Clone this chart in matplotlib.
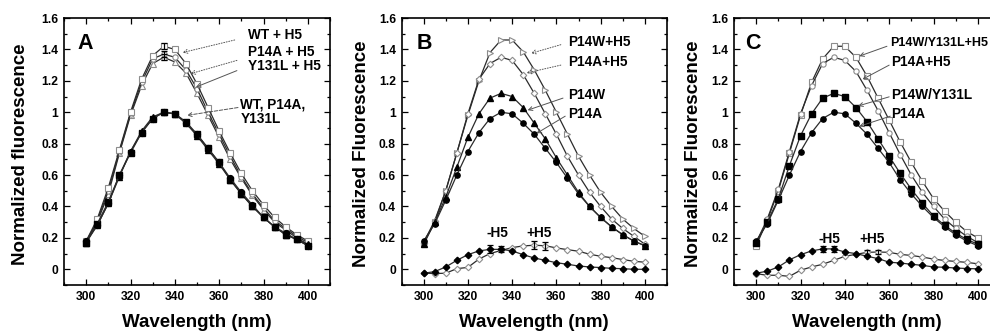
import matplotlib
matplotlib.use("Agg")
import matplotlib.pyplot as plt
from matplotlib.ticker import MultipleLocator, FuncFormatter

plt.rcParams['font.family'] = ['Liberation Sans', 'DejaVu Sans']
plt.rcParams['font.weight'] = 'bold'

# ---------------- data ----------------
wl = [300, 305, 310, 315, 320, 325, 330, 335, 340, 345, 350,
      355, 360, 365, 370, 375, 380, 385, 390, 395, 400]

# Panel A
A_wt = [0.18, 0.28, 0.42, 0.60, 0.75, 0.87, 0.96, 1.00, 0.99, 0.93, 0.86, 0.77, 0.68, 0.58, 0.49, 0.41, 0.33, 0.27, 0.23, 0.19, 0.15]
A_p14a = [0.17, 0.29, 0.43, 0.60, 0.74, 0.87, 0.96, 1.00, 0.99, 0.94, 0.86, 0.77, 0.68, 0.57, 0.48, 0.40, 0.33, 0.27, 0.22, 0.19, 0.15]
A_y131l = [0.17, 0.28, 0.42, 0.59, 0.75, 0.88, 0.97, 1.00, 0.99, 0.93, 0.85, 0.76, 0.67, 0.57, 0.48, 0.40, 0.33, 0.27, 0.22, 0.19, 0.16]
A_wt_h5 = [0.18, 0.32, 0.52, 0.76, 1.00, 1.21, 1.36, 1.42, 1.40, 1.31, 1.18, 1.03, 0.88, 0.74, 0.61, 0.50, 0.41, 0.33, 0.27, 0.22, 0.18]
A_p14a_h5 = [0.17, 0.31, 0.50, 0.75, 0.99, 1.19, 1.34, 1.37, 1.35, 1.27, 1.15, 1.00, 0.86, 0.72, 0.59, 0.48, 0.39, 0.31, 0.26, 0.21, 0.17]
A_y131l_h5 = [0.18, 0.30, 0.48, 0.74, 0.98, 1.17, 1.31, 1.35, 1.32, 1.25, 1.12, 0.98, 0.84, 0.70, 0.58, 0.47, 0.38, 0.30, 0.25, 0.20, 0.16]
A_err_wl = [335]
A_err_wt_h5 = [0.02]
A_err_p14a_h5 = [0.02]
A_err_y131l_h5 = [0.02]

# Panel B
B_p14w_h5 = [0.16, 0.30, 0.50, 0.74, 0.98, 1.20, 1.38, 1.46, 1.46, 1.385, 1.27, 1.14, 1.00, 0.86, 0.72, 0.60, 0.49, 0.40, 0.32, 0.26, 0.21]
B_p14a_h5 = [0.17, 0.31, 0.50, 0.74, 0.99, 1.21, 1.31, 1.35, 1.33, 1.24, 1.12, 0.99, 0.86, 0.72, 0.60, 0.49, 0.40, 0.32, 0.26, 0.21, 0.16]
B_p14w = [0.16, 0.30, 0.46, 0.65, 0.84, 0.99, 1.09, 1.12, 1.10, 1.03, 0.93, 0.83, 0.71, 0.60, 0.49, 0.40, 0.33, 0.27, 0.22, 0.18, 0.15]
B_p14a = [0.18, 0.29, 0.44, 0.60, 0.75, 0.87, 0.96, 1.00, 0.99, 0.93, 0.86, 0.77, 0.68, 0.58, 0.48, 0.40, 0.33, 0.27, 0.22, 0.18, 0.15]
B_minus_h5 = [-0.025, -0.015, 0.015, 0.057, 0.093, 0.117, 0.127, 0.127, 0.117, 0.093, 0.072, 0.057, 0.042, 0.032, 0.021, 0.015, 0.011, 0.006, 0.004, 0.0, 0.0]
B_plus_h5 = [-0.025, -0.027, -0.025, 0.004, 0.012, 0.065, 0.10, 0.12, 0.138, 0.149, 0.153, 0.150, 0.136, 0.125, 0.115, 0.096, 0.083, 0.074, 0.062, 0.051, 0.045]
B_err_minus_wl = [330, 335]
B_err_minus = [0.025, 0.02]
B_err_plus_wl = [350, 355]
B_err_plus = [0.025, 0.025]

# Panel C
C_p14wy_h5 = [0.15, 0.31, 0.50, 0.74, 0.98, 1.19, 1.34, 1.42, 1.42, 1.35, 1.23, 1.09, 0.95, 0.81, 0.68, 0.56, 0.45, 0.37, 0.30, 0.24, 0.20]
C_p14a_h5 = [0.17, 0.32, 0.51, 0.75, 0.99, 1.17, 1.31, 1.35, 1.33, 1.26, 1.14, 1.01, 0.87, 0.73, 0.60, 0.49, 0.40, 0.32, 0.26, 0.21, 0.17]
C_p14wy = [0.17, 0.30, 0.45, 0.66, 0.85, 0.99, 1.09, 1.12, 1.10, 1.03, 0.94, 0.83, 0.72, 0.61, 0.51, 0.42, 0.34, 0.28, 0.23, 0.19, 0.16]
C_p14a = [0.18, 0.29, 0.44, 0.60, 0.75, 0.87, 0.96, 1.00, 0.99, 0.93, 0.86, 0.77, 0.68, 0.57, 0.48, 0.40, 0.33, 0.27, 0.22, 0.18, 0.15]
C_minus_h5 = [-0.025, -0.012, 0.015, 0.06, 0.093, 0.117, 0.13, 0.13, 0.11, 0.10, 0.083, 0.068, 0.045, 0.04, 0.032, 0.025, 0.015, 0.013, 0.008, 0.005, 0.003]
C_plus_h5 = [-0.028, -0.038, -0.038, -0.045, -0.006, 0.015, 0.032, 0.057, 0.083, 0.095, 0.108, 0.110, 0.108, 0.095, 0.088, 0.078, 0.065, 0.056, 0.050, 0.044, 0.035]
C_err_minus_wl = [330, 335]
C_err_minus = [0.02, 0.02]
C_err_plus_wl = [350, 355]
C_err_plus = [0.015, 0.015]

# ---------------- figure ----------------
fig = plt.figure(figsize=(9.9, 3.31), dpi=100)
W, H = 990.0, 331.0
def pos(left, right, top=18, bottom=285):
    return [left / W, 1 - bottom / H, (right - left) / W, (bottom - top) / H]

axA = fig.add_axes(pos(64, 330))
axB = fig.add_axes(pos(401.5, 667))
axC = fig.add_axes(pos(734, 1000))

LINE = '#2b2b2b'
GREY = '#8c8c8c'

def fmt(v, p):
    return ('%g' % round(v, 2))

def style(ax, ylabel, lab_x):
    ax.set_xlim(290, 410)
    ax.set_ylim(-0.1, 1.6)
    ax.xaxis.set_major_locator(MultipleLocator(20))
    ax.xaxis.set_minor_locator(MultipleLocator(10))
    ax.yaxis.set_major_locator(MultipleLocator(0.2))
    ax.yaxis.set_minor_locator(MultipleLocator(0.1))
    ax.yaxis.set_major_formatter(FuncFormatter(fmt))
    ax.tick_params(which='both', direction='in', top=True, right=True,
                   labelsize=8.7, width=0.9, pad=4)
    ax.tick_params(which='major', length=4)
    ax.tick_params(which='minor', length=2.5)
    for lbl in ax.get_xticklabels() + ax.get_yticklabels():
        lbl.set_fontweight('bold')
    for s in ax.spines.values():
        s.set_linewidth(1.2)
    ax.set_xlabel('Wavelength (nm)', fontsize=13.5, fontweight='bold')
    ax.xaxis.set_label_coords(0.5, -0.142)
    ax.xaxis.label.set_va('center')
    ax.set_ylabel(ylabel, fontsize=13.5, fontweight='bold')
    ax.yaxis.set_label_coords(lab_x, 0.49)
    ax.yaxis.label.set_va('center')

def filled(ax, y, m, ms=3.8):
    ax.plot(wl, y, color=LINE, lw=0.9, marker=m, ms=ms, mfc='black', mec='black', zorder=3)

def hollow(ax, y, m, ms=3.8):
    ax.plot(wl, y, color=LINE, lw=0.9, marker=m, ms=ms, mfc='white', mec=GREY, mew=0.8, zorder=3)

def ebar(ax, xs, ys, es):
    ax.errorbar(xs, ys, yerr=es, fmt='none', ecolor='black', elinewidth=0.9, capsize=2, capthick=0.9, zorder=4)

def pick(y, xs):
    return [y[wl.index(x)] for x in xs]

def arrow(ax, tail, head, ls='-'):
    ax.annotate('', xy=head, xytext=tail,
                arrowprops=dict(arrowstyle='->', color='#555555', lw=0.7, linestyle=ls,
                                shrinkA=0, shrinkB=0, mutation_scale=7))

def label(ax, x, y, s, size=9.8):
    ax.text(x, y, s, fontsize=size, fontweight='bold', ha='left', va='center')

# ---- Panel A ----
style(axA, 'Normalized fluorescence', -0.165)
hollow(axA, A_y131l_h5, '^')
hollow(axA, A_p14a_h5, 'o')
hollow(axA, A_wt_h5, 's')
filled(axA, A_y131l, '^')
filled(axA, A_p14a, 's')
filled(axA, A_wt, 'o', 4.2)
ebar(axA, A_err_wl, pick(A_wt_h5, A_err_wl), A_err_wt_h5)
ebar(axA, A_err_wl, pick(A_p14a_h5, A_err_wl), A_err_p14a_h5)
ebar(axA, A_err_wl, pick(A_y131l_h5, A_err_wl), A_err_y131l_h5)
axA.text(296, 1.44, 'A', fontsize=15.5, fontweight='bold', va='center', ha='left')
label(axA, 373, 1.49, 'WT + H5')
label(axA, 373, 1.385, 'P14A + H5')
label(axA, 373, 1.294, 'Y131L + H5')
label(axA, 369.5, 1.05, 'WT, P14A,')
label(axA, 369.5, 0.955, 'Y131L')
arrow(axA, (367, 1.46), (343.5, 1.38), ':')
arrow(axA, (368, 1.33), (347, 1.245), ':')
arrow(axA, (368, 1.265), (349.5, 1.16), '-')
arrow(axA, (368.5, 1.03), (345.5, 0.98), '--')

# ---- Panel B ----
style(axB, 'Normalized Fluorescence', -0.149)
hollow(axB, B_p14w_h5, '>')
hollow(axB, B_p14a_h5, 'D', 3.3)
filled(axB, B_p14w, '^')
filled(axB, B_p14a, 'o')
hollow(axB, B_plus_h5, 'D', 3.3)
filled(axB, B_minus_h5, 'D', 3.3)
ebar(axB, B_err_minus_wl, pick(B_minus_h5, B_err_minus_wl), B_err_minus)
ebar(axB, B_err_plus_wl, pick(B_plus_h5, B_err_plus_wl), B_err_plus)
axB.text(297, 1.44, 'B', fontsize=15.5, fontweight='bold', va='center', ha='left')
label(axB, 365.5, 1.45, 'P14W+H5')
label(axB, 365.5, 1.317, 'P14A+H5')
label(axB, 365.5, 1.11, 'P14W')
label(axB, 365.5, 0.99, 'P14A')
arrow(axB, (362, 1.43), (348.5, 1.375), ':')
arrow(axB, (362, 1.30), (346.5, 1.25), ':')
arrow(axB, (363, 1.09), (347, 1.013), '-')
arrow(axB, (364, 0.975), (351, 0.865), '-')
axB.text(333.5, 0.23, '-H5', fontsize=9.8, fontweight='bold', ha='center', va='center')
axB.text(352, 0.23, '+H5', fontsize=9.8, fontweight='bold', ha='center', va='center')

# ---- Panel C ----
style(axC, 'Normalized Fluorescence', -0.154)
hollow(axC, C_p14wy_h5, 's')
hollow(axC, C_p14a_h5, 'o')
filled(axC, C_p14wy, 's')
filled(axC, C_p14a, 'o')
hollow(axC, C_plus_h5, 'D', 3.3)
filled(axC, C_minus_h5, 'D', 3.3)
ebar(axC, C_err_minus_wl, pick(C_minus_h5, C_err_minus_wl), C_err_minus)
ebar(axC, C_err_plus_wl, pick(C_plus_h5, C_err_plus_wl), C_err_plus)
axC.text(295, 1.44, 'C', fontsize=15.5, fontweight='bold', va='center', ha='left')
label(axC, 360.3, 1.44, 'P14W/Y131L+H5', 9.0)
label(axC, 361, 1.32, 'P14A+H5')
label(axC, 361, 1.11, 'P14W/Y131L')
label(axC, 361, 0.99, 'P14A')
arrow(axC, (359, 1.42), (346.5, 1.357), '-')
arrow(axC, (360, 1.30), (348, 1.21), '-')
arrow(axC, (360, 1.098), (346, 1.04), '-')
arrow(axC, (360.5, 0.975), (346.5, 0.91), '-')
axC.text(333, 0.195, '-H5', fontsize=9.8, fontweight='bold', ha='center', va='center')
axC.text(352.5, 0.195, '+H5', fontsize=9.8, fontweight='bold', ha='center', va='center')

fig.savefig('out.png', dpi=100)
